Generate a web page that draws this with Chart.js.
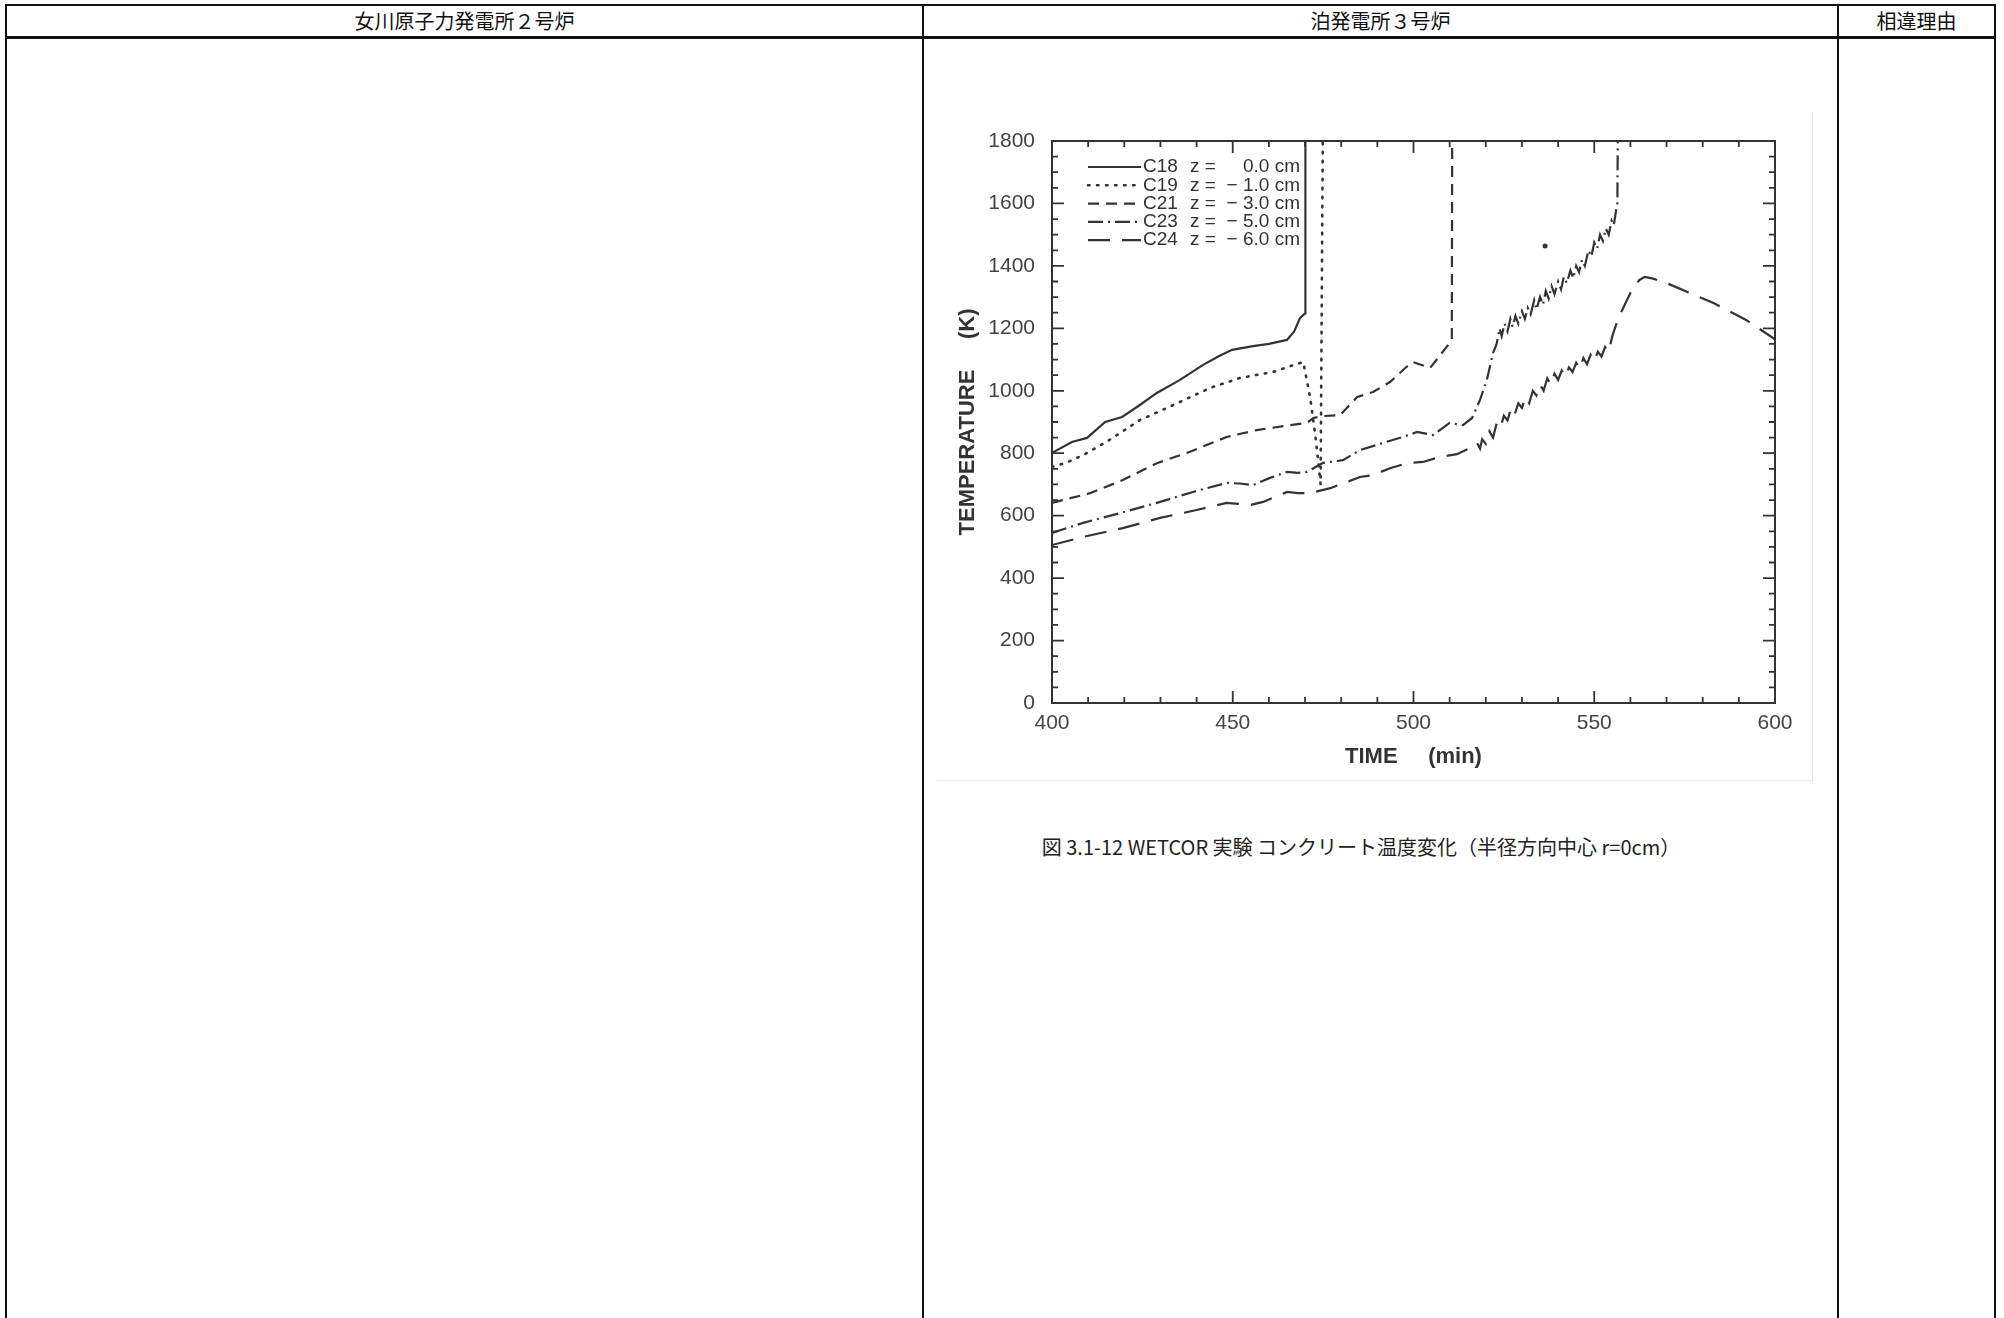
<!DOCTYPE html>
<html lang="ja">
<head>
<meta charset="utf-8">
<script src="https://cdn.jsdelivr.net/npm/chart.js@4.4.1/dist/chart.umd.min.js"></script>
<style>
  body { margin: 0; width: 2004px; height: 1318px; overflow: hidden; background: #fff; font-family: "Noto Sans CJK JP", sans-serif; color: #111; }
  .tbl { position: absolute; left: 5px; top: 4px; width: 1991px; height: 1360px; border: 2px solid #111; box-sizing: border-box; }
  .hline { position: absolute; left: 5px; width: 1991px; top: 36px; height: 3px; background: #111; }
  .vline { position: absolute; top: 4px; width: 2px; height: 1360px; background: #111; }
  .head { position: absolute; top: 6px; height: 30px; line-height: 30px; text-align: center; font-size: 20px; }
  .fig { position: absolute; left: 937px; top: 112px; width: 875px; height: 668px; border-right: 1px solid #e4e4e4; border-bottom: 1px solid #efefef; }
  .caption { position: absolute; left: 940px; width: 842px; top: 832px; text-align: center; font-size: 20px; white-space: pre; color: #222; }
</style>
</head>
<body>
<div class="tbl"></div>
<div class="hline"></div>
<div class="vline" style="left:922px"></div>
<div class="vline" style="left:1837px"></div>
<div class="head" style="left:7px;width:915px">女川原子力発電所２号炉</div>
<div class="head" style="left:924px;width:913px">泊発電所３号炉</div>
<div class="head" style="left:1839px;width:155px">相違理由</div>

<div class="fig"><canvas id="wetcorChart" width="875" height="668"></canvas></div>
<div class="caption">図 3.1-12 WETCOR 実験 コンクリート温度変化（半径方向中心 r=0cm）</div>

<script>
// series names / depth labels
const seriesNames = ['C18', 'C19', 'C21', 'C23', 'C24'];
const zDepths = ['0.0', '− 1.0', '− 3.0', '− 5.0', '− 6.0'];

// tick labels
const xTickLabels = [400, 450, 500, 550, 600];
const yTickLabels = [0, 200, 400, 600, 800, 1000, 1200, 1400, 1600, 1800];

// C18 z = 0.0 cm
const c18Time = [400, 405.5, 409.7, 414.7, 419.4, 424, 429, 435.4, 441.8, 446, 449.8, 455.6, 460, 465, 467, 468.6, 470, 470.1];
const c18Temp = [801, 836, 849, 900, 916, 952, 993, 1035, 1083, 1110, 1131, 1143, 1150, 1163, 1190, 1233, 1248, 1800];

// C19 z = -1.0 cm
const c19Time = [400, 404, 408.6, 415, 424.3, 433.5, 443.7, 452, 461, 467, 469.5, 471.4, 472.8, 473.6, 474.3, 474.9];
const c19Temp = [756, 770, 794, 836, 906, 954, 1009, 1041, 1060, 1083, 1092, 980, 860, 780, 700, 1800];

// C21 z = -3.0 cm
const c21Time = [400, 410.5, 419.6, 429, 438, 448.3, 456.6, 465.8, 470.5, 472.3, 475, 479.7, 484.4, 488.8, 493.5, 498, 499.9, 504.6, 510, 510.6, 510.7];
const c21Temp = [641, 672, 714, 768, 804, 852, 874, 890, 897, 913, 919, 922, 980, 996, 1028, 1076, 1092, 1073, 1153, 1163, 1800];

// C23 z = -5.0 cm
const c23Time = [400, 408.6, 418.8, 429, 439, 448.3, 452, 455.6, 460.3, 465, 468, 470.5, 475, 480.5, 485.2, 491.6, 497, 501, 505.4, 510, 513.7, 516.2, 518.4, 520.3, 522,
  523, 523.8, 524.4, 525.2, 526, 526.8, 527.4, 528.2, 529, 530, 530.8, 531.6, 532.4, 533.4, 534, 535, 535.8, 536.6, 537.4, 538.2, 539, 540, 540.8, 541.6, 542.4,
  543.4, 544.2, 545, 545.8, 546.6, 547.4, 548.4, 549.2, 550, 550.8, 551.6, 552.4, 553.2, 554, 554.8, 555.4, 556, 556.4, 556.5];
const c23Temp = [545, 577, 608, 641, 676, 705, 703, 698, 721, 740, 737, 740, 769, 778, 810, 833, 852, 868, 858, 897, 890, 913, 971, 1035, 1121,
  1150, 1200, 1175, 1215, 1190, 1230, 1205, 1240, 1215, 1255, 1230, 1265, 1245, 1290, 1260, 1300, 1275, 1320, 1295, 1335, 1310, 1350, 1325, 1365, 1345,
  1385, 1360, 1400, 1380, 1420, 1400, 1450, 1430, 1475, 1455, 1500, 1480, 1520, 1500, 1545, 1530, 1575, 1600, 1800];

// C24 z = -6.0 cm
const c24Time = [400, 408.6, 419.6, 429.9, 440, 448.3, 451.5, 454.8, 458.4, 465, 468, 471.4, 477, 481.6, 485.2, 488.8, 493.5, 498.2, 502.6, 507.3, 512, 515.6, 517.6,
  518.4, 519, 520, 521, 522, 523, 524, 525, 526, 527, 528, 529, 530, 531, 532, 533, 534, 535, 536, 537, 538, 539, 540, 541, 542, 543, 544, 545, 546, 547, 548,
  549, 550, 551, 552, 553, 554, 555, 556, 557, 558, 560, 562.5, 564, 566, 570, 583, 592, 600];
const c24Temp = [506, 532, 560, 593, 618, 641, 638, 634, 644, 676, 672, 672, 688, 708, 724, 730, 752, 768, 772, 788, 797, 816, 833,
  815, 845, 830, 870, 850, 895, 880, 920, 905, 945, 925, 960, 945, 980, 960, 1000, 985, 1020, 1000, 1040, 1020, 1055, 1035, 1065, 1045, 1075, 1060, 1090, 1070, 1105, 1085,
  1115, 1095, 1125, 1110, 1140, 1125, 1175, 1210, 1240, 1265, 1313, 1355, 1365, 1360, 1345, 1281, 1227, 1165];

// stray mark in the scan
const strayTime = [536.4];
const strayTemp = [1464];

const lineColor = '#333';
const textColor = '#444';
const labelFont = '"Liberation Sans", "DejaVu Sans", sans-serif';
const titleFont = '"Liberation Sans Narrow", "Liberation Sans", sans-serif';

const toPoints = (xs, ys) => xs.map((t, i) => ({ x: t, y: ys[i] }));
const seriesData = [
  toPoints(c18Time, c18Temp),
  toPoints(c19Time, c19Temp),
  toPoints(c21Time, c21Temp),
  toPoints(c23Time, c23Temp),
  toPoints(c24Time, c24Temp)
];
const seriesDash = [[], [1.5, 7.5], [11, 7], [15, 5, 2, 5], [22, 12]];

const datasets = seriesData.map((pts, i) => ({
    label: `${seriesNames[i]}  z = ${zDepths[i]} cm`,
    data: pts,
    showLine: true,
    borderColor: lineColor,
    borderWidth: i === 1 ? 2.6 : 2.2,
    borderDash: seriesDash[i],
    borderCapStyle: i === 1 ? 'round' : 'butt',
    pointRadius: 0,
    tension: 0
}));
datasets.push({
    label: 'stray',
    data: toPoints(strayTime, strayTemp),
    showLine: false,
    pointRadius: 2.5,
    pointBackgroundColor: lineColor,
    pointBorderWidth: 0
});

// frame box, inward ticks on all four sides and the legend inside the plot
const frameAndLegend = {
    id: 'frameAndLegend',
    afterDatasetsDraw(chart) {
        const { ctx, chartArea: a, scales: { x, y } } = chart;
        ctx.save();
        ctx.strokeStyle = lineColor;
        ctx.setLineDash([]);
        ctx.lineWidth = 2;
        ctx.strokeRect(a.left, a.top, a.right - a.left, a.bottom - a.top);

        ctx.lineWidth = 1.8;
        ctx.beginPath();
        x.ticks.forEach(t => {
            const px = x.getPixelForValue(t.value);
            const len = xTickLabels.includes(t.value) ? 12 : 6;
            ctx.moveTo(px, a.bottom); ctx.lineTo(px, a.bottom - len);
            ctx.moveTo(px, a.top); ctx.lineTo(px, a.top + len);
        });
        y.ticks.forEach(t => {
            const py = y.getPixelForValue(t.value);
            const len = yTickLabels.includes(t.value) ? 12 : 6;
            ctx.moveTo(a.left, py); ctx.lineTo(a.left + len, py);
            ctx.moveTo(a.right, py); ctx.lineTo(a.right - len, py);
        });
        ctx.stroke();

        // legend
        ctx.fillStyle = '#333';
        ctx.font = `19px ${labelFont}`;
        ctx.textBaseline = 'middle';
        seriesNames.forEach((name, i) => {
            const ly = a.top + 26 + i * 18.3;
            const ds = chart.data.datasets[i];
            ctx.beginPath();
            ctx.lineWidth = ds.borderWidth;
            ctx.lineCap = ds.borderCapStyle;
            ctx.setLineDash(ds.borderDash);
            ctx.moveTo(a.left + 36, ly);
            ctx.lineTo(a.left + 89, ly);
            ctx.stroke();
            ctx.setLineDash([]);
            ctx.textAlign = 'left';
            ctx.fillText(name, a.left + 91, ly);
            ctx.fillText('z =', a.left + 138, ly);
            ctx.textAlign = 'right';
            ctx.fillText(`${zDepths[i]} cm`, a.left + 248, ly);
        });
        ctx.restore();
    }
};

new Chart(document.getElementById('wetcorChart'), {
    type: 'scatter',
    data: { datasets },
    options: {
        responsive: false,
        animation: false,
        devicePixelRatio: 1,
        layout: { padding: { left: 0, top: 29, right: 37, bottom: 0 } },
        plugins: {
            legend: { display: false },
            tooltip: { enabled: false }
        },
        scales: {
            x: {
                type: 'linear',
                min: 400,
                max: 600,
                afterFit: s => { s.height = 77; },
                grid: { display: false },
                border: { display: false },
                ticks: {
                    stepSize: 10,
                    autoSkip: false,
                    maxRotation: 0,
                    padding: 0,
                    color: textColor,
                    font: { size: 21, family: labelFont },
                    callback: v => xTickLabels.includes(v) ? String(v) : ''
                },
                title: {
                    display: true,
                    text: 'TIME     (min)',
                    color: '#333',
                    padding: { top: 0, bottom: 10 },
                    font: { size: 22, family: titleFont, weight: 'bold' }
                }
            },
            y: {
                min: 0,
                max: 1800,
                afterFit: s => { s.width = 115; },
                grid: { display: false },
                border: { display: false },
                ticks: {
                    stepSize: 50,
                    autoSkip: false,
                    padding: 9,
                    color: textColor,
                    font: { size: 21, family: labelFont },
                    callback: v => yTickLabels.includes(v) ? String(v) : ''
                },
                title: {
                    display: true,
                    text: 'TEMPERATURE     (K)',
                    color: '#333',
                    padding: { top: 18, bottom: 0 },
                    font: { size: 22, family: titleFont, weight: 'bold' }
                }
            }
        }
    },
    plugins: [frameAndLegend]
});
</script>
</body>
</html>
